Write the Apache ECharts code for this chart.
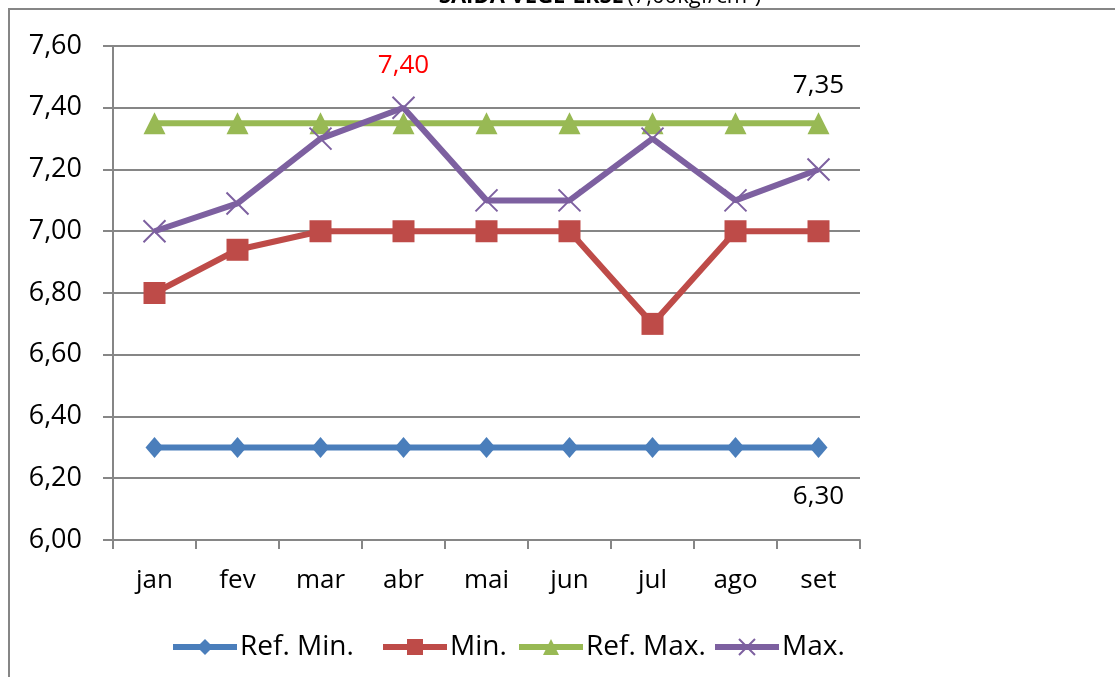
<!DOCTYPE html>
<html><head><meta charset="utf-8">
<script src="https://cdn.jsdelivr.net/npm/echarts@6/dist/echarts.min.js"></script>
<style>html,body{margin:0;padding:0;background:#fff}#c{width:1115px;height:677px}</style>
</head><body><div id="c"></div>
<script>
const categories = ['jan','fev','mar','abr','mai','jun','jul','ago','set'];
const refMin = [6.30,6.30,6.30,6.30,6.30,6.30,6.30,6.30,6.30];
const minVals = [6.80,6.94,7.00,7.00,7.00,7.00,6.70,7.00,7.00];
const refMax = [7.35,7.35,7.35,7.35,7.35,7.35,7.35,7.35,7.35];
const maxVals = [7.00,7.09,7.30,7.40,7.10,7.10,7.30,7.10,7.20];
const seriesNames = ['Ref. Min.','Min.','Ref. Max.','Max.'];
const yTicks = {min:6.0, max:7.6, interval:0.2};

const FONT = '"Open Sans", "Noto Sans", sans-serif';
const FS = 26;
const fmt = v => v.toFixed(2).replace('.', ',');
const legendLefts = [170, 380, 516, 712];

function withLabel(arr, idx, pos, color, dist) {
  return arr.map((v, i) => i === idx ? {
    value: v,
    label: {show: true, position: pos, distance: dist, color: color, fontSize: FS, fontFamily: FONT,
      formatter: p => fmt(p.value)}
  } : v);
}

const chart = echarts.init(document.getElementById('c'), null, {renderer: 'canvas'});
const cross = 'path://M0,0L10,10M10,0L0,10';
chart.setOption({
  animation: false,
  backgroundColor: '#fff',
  textStyle: {fontFamily: FONT},
  graphic: [
    {type: 'rect', shape: {x: 9, y: 9, width: 1200, height: 800},
      style: {fill: 'none', stroke: '#868686', lineWidth: 2}, silent: true, z: -1},
    {type: 'text', x: 600, y: -3, silent: true, z: 10,
      style: {text: '{b|SAÍDA VEGE-LRSE} {n|(7,00kgf/cm²)}', align: 'center', verticalAlign: 'middle',
        rich: {b: {fontWeight: 'bold', fontSize: 22, fontFamily: FONT, fill: '#000'},
               n: {fontSize: 22, fontFamily: FONT, fill: '#000'}}}}
  ],
  grid: {left: 113, right: 255, top: 46, bottom: 137, containLabel: false},
  legend: seriesNames.map((n, i) => ({
    bottom: 16, left: legendLefts[i], padding: 0, itemWidth: 64, itemHeight: 20,
    lineStyle: {width: 6},
    textStyle: {fontSize: 28, fontFamily: FONT, color: '#000', padding: [0,0,0,-2]},
    data: [n]
  })),
  xAxis: {
    type: 'category', data: categories, boundaryGap: true,
    axisLine: {lineStyle: {color: '#868686', width: 2}},
    axisTick: {show: true, length: 9, lineStyle: {color: '#868686', width: 2}},
    axisLabel: {fontSize: FS, color: '#000', margin: 28, fontFamily: FONT}
  },
  yAxis: {
    type: 'value', min: yTicks.min, max: yTicks.max, interval: yTicks.interval,
    axisLine: {show: true, lineStyle: {color: '#868686', width: 2}},
    axisTick: {show: true, length: 10, inside: false, lineStyle: {color: '#868686', width: 2}},
    splitLine: {lineStyle: {color: '#868686', width: 2}},
    axisLabel: {fontSize: 27, color: '#000', margin: 31, fontFamily: FONT, formatter: v => fmt(v)}
  },
  series: [
    {name: seriesNames[0], type: 'line', data: withLabel(refMin, 8, 'bottom', '#000', 26),
      symbol: 'diamond', symbolSize: [18, 21], lineStyle: {width: 6, color: '#4A7EBB'},
      itemStyle: {color: '#4A7EBB'}, z: 2},
    {name: seriesNames[1], type: 'line', data: minVals,
      symbol: 'rect', symbolSize: 22, lineStyle: {width: 6, color: '#BE4B48'},
      itemStyle: {color: '#BE4B48'}, z: 3},
    {name: seriesNames[2], type: 'line', data: withLabel(refMax, 8, 'top', '#000', 14),
      symbol: 'triangle', symbolSize: [22, 22], lineStyle: {width: 6, color: '#98B954'},
      itemStyle: {color: '#98B954'}, z: 4},
    {name: seriesNames[3], type: 'line', data: withLabel(maxVals, 3, 'top', '#FF0000', 16),
      symbol: cross, symbolSize: 22, symbolKeepAspect: true, lineStyle: {width: 6, color: '#7D60A0'},
      itemStyle: {color: 'none', borderColor: '#7D60A0', borderWidth: 2}, z: 5}
  ]
});
</script>
</body></html>
